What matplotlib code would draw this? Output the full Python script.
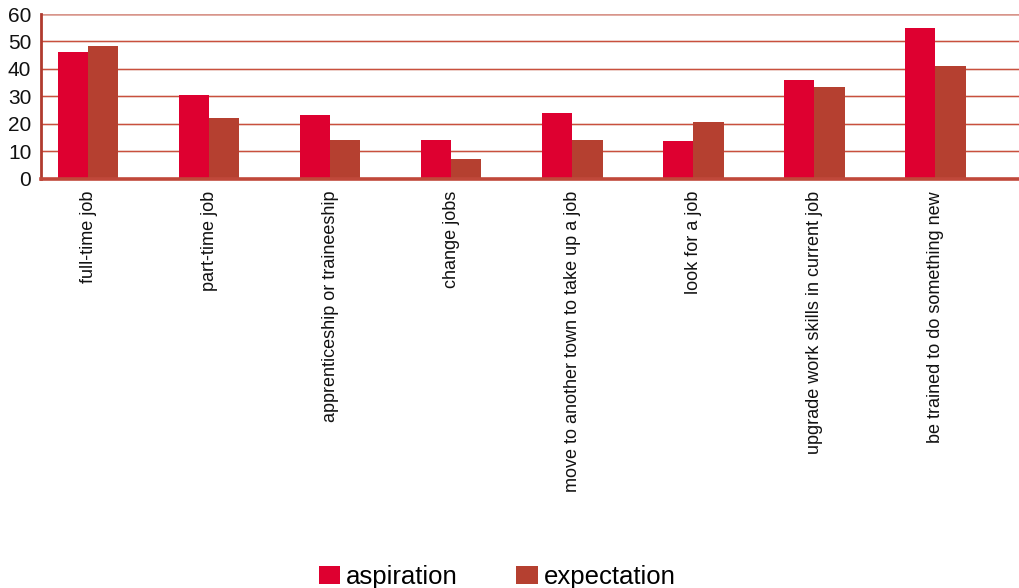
import matplotlib
matplotlib.use("Agg")
import matplotlib.pyplot as plt
import numpy as np

categories = ["full-time job", "part-time job", "apprenticeship or traineeship",
              "change jobs", "move to another town to take up a job",
              "look for a job", "upgrade work skills in current job",
              "be trained to do something new"]
aspiration = [46, 30.5, 23, 14, 24, 13.5, 36, 55]
expectation = [48.5, 22, 14, 7, 14, 20.5, 33.5, 41]
yticks = [0, 10, 20, 30, 40, 50, 60]

plt.rcParams['font.family'] = ['Liberation Sans', 'DejaVu Sans']

W, H = 1020, 588
fig = plt.figure(figsize=(W/100, H/100), dpi=100)
left, right, top, bottom = 41, 1020, 14, 178.5
ax = fig.add_axes([left/W, 1-bottom/H, (right-left)/W, (bottom-top)/H])

x = np.arange(len(categories))
bw = 0.25
ax.bar(x - bw/2, aspiration, bw, color='#de0030', label='aspiration', zorder=3)
ax.bar(x + bw/2, expectation, bw, color='#b54030', label='expectation', zorder=3)

ax.set_xlim(-0.39, 7.70)
ax.set_ylim(0, 60)
ax.set_yticks(yticks)
ax.tick_params(axis='y', length=0, labelsize=15, pad=7, colors='#111111')
ax.tick_params(axis='x', length=0, pad=9)
ax.set_xticks(x)
ax.set_xticklabels(categories, rotation=90, fontsize=13, va='top', ha='center', color='#111111')

for v in yticks[1:-1]:
    ax.axhline(v, color='#eccac4', lw=1.8, zorder=1)
    ax.axhline(v, color='#c9503e', lw=0.8, zorder=2)
ax.axhline(60, color='#d8958b', lw=1.8, zorder=2)

for s in ['top', 'right']:
    ax.spines[s].set_visible(False)
ax.spines['left'].set_color('#b03a2e')
ax.spines['left'].set_linewidth(2.0)
ax.spines['bottom'].set_color('#c0483a')
ax.spines['bottom'].set_linewidth(2.6)
ax.spines['bottom'].set_zorder(4)

fs = 18.5
fig.legend(loc='center', bbox_to_anchor=(497/W, 1-577/H), ncol=2, frameon=False,
           fontsize=fs, handlelength=0.85, handleheight=0.66, handletextpad=0.2,
           columnspacing=2.3, borderpad=0, borderaxespad=0)

fig.savefig('out.png', dpi=100)
